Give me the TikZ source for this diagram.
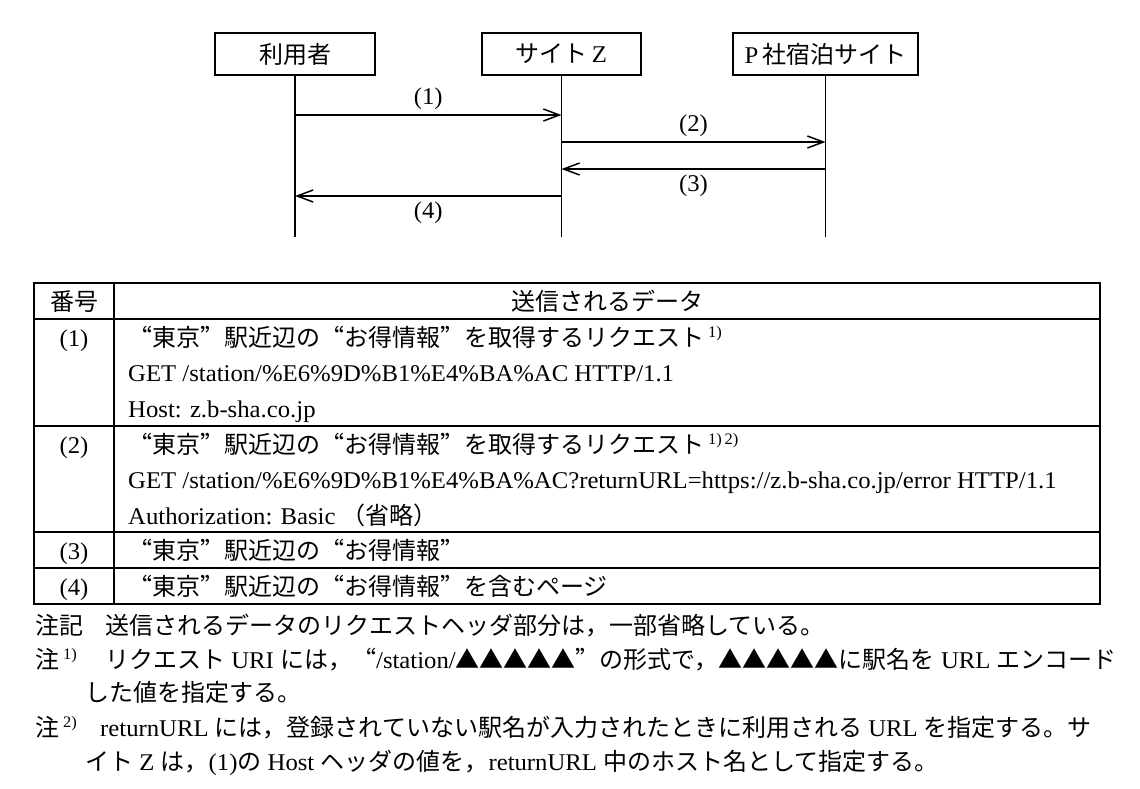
\documentclass[tikz,border=0pt]{standalone}
\usepackage{fontspec}
\setmainfont{Liberation Serif}[FakeStretch=1.03]
\newfontfamily\jp{Noto Sans CJK JP}[RawFeature=+fwid]
\usetikzlibrary{arrows.meta}
\newcommand{\ja}[1]{{\jp #1}}
\newcommand{\notemark}[1]{\,\raisebox{9pt}{\fontsize{16}{16}\selectfont #1}}
\tikzset{
  party/.style={draw, line width=1.6pt, minimum height=42pt, inner sep=0pt},
  msg/.style={line width=1.5pt, -{Straight Barb[length=16pt,width=12pt,line width=1.5pt]}},
  rule/.style={line width=1.6pt},
  cell/.style={anchor=base west, inner sep=0pt},
  num/.style={anchor=base, inner sep=0pt}
}

\begin{document}
\begin{tikzpicture}[x=1pt, y=-1pt, font=\fontsize{24}{28}\selectfont]
\useasboundingbox (0,0) rectangle (1140,788);
\node[party, minimum width=160pt] (user) at (295,54) {\ja{利用者}};
\node[party, minimum width=159pt] (siteZ) at (561.5,54) {\ja{サイト}\,Z};
\node[party, minimum width=185pt] (psite) at (825.5,54) {P\,\ja{社宿泊サイト}};
\foreach \n in {user,siteZ,psite} \draw[line width=1.5pt] (\n.south) -- (\n.south |- 0,237);
\draw[msg] (user.south |- 0,115) -- node[above=1pt]{(1)} (siteZ.south |- 0,115);
\draw[msg] (siteZ.south |- 0,142) -- node[above=1pt]{(2)} (psite.south |- 0,142);
\draw[msg] (psite.south |- 0,169) -- node[below=2pt]{(3)} (siteZ.south |- 0,169);
\draw[msg] (siteZ.south |- 0,196) -- node[below=2pt]{(4)} (user.south |- 0,196);

\draw[rule] (34,283) rectangle (1100,604);
\draw[rule] (114,283) -- (114,604);
\foreach \y in {319,426,532,568} \draw[rule] (34,\y) -- (1100,\y);
\node[num] (hnum) at (74,310) {\ja{番号}};
\node[num] (hdata) at (607,310) {\ja{送信されるデータ}};
\node[num] (r1) at (74,346) {(1)};
\node[num] (r2) at (74,453) {(2)};
\node[num] (r3) at (74,559) {(3)};
\node[num] (r4) at (74,595) {(4)};
\node[cell] (r1a) at (128,346) {\ja{“東京”駅近辺の“お得情報”を取得するリクエスト}\notemark{1)}};
\node[cell] (r1b) at (128,381) {GET /station/\%E6\%9D\%B1\%E4\%BA\%AC HTTP/1.1};
\node[cell] (r1c) at (128,417) {Host: z.b-sha.co.jp};
\node[cell] (r2a) at (128,453) {\ja{“東京”駅近辺の“お得情報”を取得するリクエスト}\notemark{1)\,2)}};
\node[cell] (r2b) at (128,488) {GET /station/\%E6\%9D\%B1\%E4\%BA\%AC?returnURL=https://z.b-sha.co.jp/error HTTP/1.1};
\node[cell] (r2c) at (128,524) {Authorization: Basic \ja{（省略）}};
\node[cell] (r3a) at (128,559) {\ja{“東京”駅近辺の“お得情報”}};
\node[cell] (r4a) at (128,595) {\ja{“東京”駅近辺の“お得情報”を含むページ}};

\node[cell] (n1) at (35,634) {\makebox[70pt][l]{\ja{注記}}\ja{送信されるデータのリクエストヘッダ部分は，一部省略している。}};
\node[cell] (n2) at (35,668) {\makebox[70pt][l]{\ja{注}\notemark{1)}}\ja{リクエスト} URI \ja{には，“}/station/\ja{▲▲▲▲▲”の形式で，▲▲▲▲▲に駅名を} URL \ja{エンコード}};
\node[cell] (n2b) at (85,701) {\ja{した値を指定する。}};
\node[cell] (n3) at (35,736) {\makebox[65pt][l]{\ja{注}\notemark{2)}}returnURL \ja{には，登録されていない駅名が入力されたときに利用される} URL \ja{を指定する。サ}};
\node[cell] (n3b) at (85,770) {\ja{イト} Z \ja{は，}(1)\ja{の} Host \ja{ヘッダの値を，}returnURL \ja{中のホスト名として指定する。}};
\end{tikzpicture}
\end{document}
